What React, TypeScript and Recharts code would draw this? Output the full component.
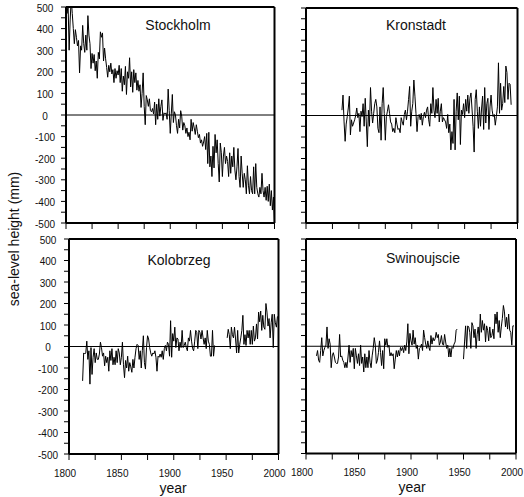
import React from 'react';
import { LineChart, Line, XAxis, YAxis, ReferenceLine } from 'recharts';

const FONT = '"Liberation Sans", Arial, Helvetica, sans-serif';

const xTicks = [1800, 1825, 1850, 1875, 1900, 1925, 1950, 1975, 2000];
const yTicks = [-500, -450, -400, -350, -300, -250, -200, -150, -100, -50, 0, 50, 100, 150, 200, 250, 300, 350, 400, 450, 500];

const stockholmStart = 1800;
const stockholm = [
  530, 470, 510, 300, 440, 540, 470, 400, 330, 395,
  360, 320, 345, 195, 320, 300, 415, 330, 290, 370,
  300, 460, 370, 330, 215, 285, 240, 280, 205, 250,
  170, 290, 260, 385, 360, 380, 250, 310, 260, 220,
  175, 230, 200, 240, 190, 210, 150, 215, 170, 205,
  185, 230, 150, 215, 110, 180, 140, 225, 95, 200,
  170, 265, 130, 200, 105, 210, 150, 195, 115, 160,
  110, 140, 35, 100, 195, 40, -45, 90, 70, 40,
  75, 20, 15, 30, 5, 60, -45, 50, -20, 75,
  -5, 40, 70, -25, 10, 5, 10, -20, 120, 20,
  -85, 5, 95, -35, 15, 0, -50, -85, -20, -60,
  20, -5, -70, -35, -50, -85, -60, -100, -80, -115,
  -20, -75, -35, -60, -90, -45, -75, -105, -90, -130,
  -115, -145, -125, -100, -160, -85, -225, -80, -240, -190,
  -285, -145, -245, -90, -175, -115, -225, -310, -130, -175,
  -285, -190, -150, -225, -190, -215, -285, -175, -270, -190,
  -240, -150, -255, -300, -240, -155, -285, -335, -190, -270,
  -335, -270, -300, -365, -235, -325, -365, -285, -350, -365,
  -240, -365, -225, -335, -365, -380, -335, -365, -270, -350,
  -380, -335, -395, -330, -400, -320, -420, -350, -440, -380,
  -510,
];

const kronstadtStart = 1834;
const kronstadt = [
  25, 95, -30, -120, -40, -5,
  35, 90, -90, -20, -50, -35, -20, 0, 35, -10,
  10, -75, 20, -5, 55, -50, 80, -30, -145, 25,
  -50, 130, 20, -35, 10, 55, 75, 40, -60, -80,
  40, -115, 55, 130, 10, -115, -5, 20, 50, 10,
  -30, -40, -75, -60, -80, -10, -40, -65, -60, -80,
  -10, -30, -45, 5, 25, -20, 20, 75, 135, -50,
  20, 55, 165, 90, 10, -75, -5, 5, -20, 10,
  -45, -5, 15, -10, 25, 40, -20, -50, 55, 10,
  130, 25, -10, 75, 10, 80, -30, 20, 55, -30,
  -10, -20, -30, -60, 5, -80, -40, -160, -75, -130,
  75, -160, 20, 105, -20, 90, -135, 25, 5, 55,
  -10, 75, 20, 95, 10, 80, 105, 30, -50, -170,
  75, 120, 20, -60, 40, -50, 30, 90, -65, 130,
  -35, 55, 80, -65, 40, 95, 25, -5, 5, -45,
  -5, 40, 245, 10, 150, 25, 55, 135, 60, 230,
  200, 75, 150, 145, 50,
];

const kolobrzegStart = 1813;
const kolobrzeg = [
  -160, -30, -35, -30, 25, -60, -20,
  -175, -5, -130, -50, -10, -75, -30, -60, -60, -35,
  20, -5, -45, -30, -90, -45, -75, -50, -115, -20,
  -65, -10, -85, -50, -85, -20, -75, -10, -30, -85,
  -50, 20, -85, -145, -65, -100, -45, -115, -75, -95,
  -120, -60, -100, -50, -10, 10, 5, -60, -20, -100,
  -20, 50, -75, -105, -5, 50, 35, -5, -30, -45,
  -30, -35, -20, -50, -115, -45, -50, -35, -50, -20,
  -60, -10, 5, -20, 20, 10, -45, 120, -50, 60,
  25, 90, -5, 40, 35, -20, 20, -5, 75, -5,
  5, 20, -5, -20, 40, 25, 75, 25, -10, -20,
  25, 75, 65, -10, 75, 65, 35, 75, 40, 10,
  40, -10, 75, 25, 10, -45, -45, 75, -45, 5,
  null, null, null, null, null, null, null, null, null, null,
  null, 40, 80, 55, -10, 90, 55, 40, 90, 35,
  -30, 75, -30, 10, 40, 75, 145, 10, 55, 5,
  75, 40, 75, 10, 75, 10, 95, 25, 40, 105,
  35, 160, 115, 165, 75, 145, 90, 80, 200, 160,
  95, 130, 40, 110, 150, -5, 150, 110, 90, 140,
];

const swinoujscieStart = 1810;
const swinoujscie = [
  -45, -20, -65, -75, -20, 40, -45, -20, -5, 5,
  90, -10, 35, 10, -100, -45, -30, -50, -75, -80,
  -80, -50, 55, -50, -45, -65, -75, -100, -75, -100,
  -50, 5, -75, -20, -50, -10, -105, -10, -45, -80,
  -35, -90, 5, -80, -50, -120, -35, -100, -50, -100,
  -20, -75, -100, -45, -10, 40, 5, -80, -65, -30,
  25, -30, -90, -20, -105, 35, 5, 35, -5, 5,
  -45, -30, -45, -35, -105, -60, -20, -50, -20, -45,
  -5, -20, -5, -30, 5, -20, 20, 105, -35, 60,
  25, 5, 75, 10, 40, -10, 5, -60, -10, -5,
  10, -20, 75, 40, 10, -10, 25, -5, -20, 50,
  10, 40, 25, 35, 65, 40, 55, 5, 20, 50,
  10, 5, 55, 20, -10, 5, -50, -10, -50, -5,
  -10, 10, 20, 75, 80, null, null, null, null, null,
  -60, 20, 95, -10, 95, 90, 65, -10, 110, 95,
  40, 80, -10, 55, 90, 25, 150, 65, 120, 75,
  105, 20, 95, 75, 25, 90, 40, 50, 80, 35,
  150, 105, 160, 65, 120, 40, 90, 130, 190, 160,
  90, 135, 80, 150, 75, 65, 5, 95, 95,
];

type Pt = { year: number; v: number | null };
const build = (start: number, values: (number | null)[]): Pt[] =>
  values.map((v, i) => ({ year: start + i, v }));

const L = 50;
const T = 10;
const R = 10;
const B = 30;
const Y_TICK = 5;
const X_TICK = 6;
const MARGIN = 2;

type PanelProps = {
  px: number;
  py: number;
  pw: number;
  ph: number;
  data: Pt[];
  title: string;
  tx: number;
  ty: number;
  xLabels: boolean;
  yLabels: boolean;
};

function Panel({ px, py, pw, ph, data, title, tx, ty, xLabels, yLabels }: PanelProps) {
  const yTick = (props: any) => {
    const { x, y, payload } = props;
    if (!yLabels || payload.value % 100 !== 0) return <g />;
    return (
      <text x={x - 14} y={y + 4.5} textAnchor="middle" fontSize={10} fill="#111" fontFamily={FONT}>
        {payload.value}
      </text>
    );
  };
  const xTick = (props: any) => {
    const { x, y, payload } = props;
    if (!xLabels || payload.value % 50 !== 0) return <g />;
    return (
      <text x={x - 4} y={y + 14.5} textAnchor="middle" fontSize={10} fill="#111" fontFamily={FONT}>
        {payload.value}
      </text>
    );
  };
  return (
    <>
      <div style={{ position: 'absolute', left: px - L, top: py - T }}>
        <LineChart
          width={pw + L + R}
          height={ph + T + B}
          data={data}
          margin={{ top: T, right: R, left: 0, bottom: 0 }}
        >
          <XAxis
            dataKey="year"
            type="number"
            domain={[1800, 2000]}
            ticks={xTicks}
            interval={0}
            height={B}
            tickSize={X_TICK}
            tickMargin={MARGIN}
            axisLine={{ stroke: '#000', strokeWidth: 2 }}
            tickLine={{ stroke: '#000', strokeWidth: 1 }}
            tick={xTick}
            allowDataOverflow
          />
          <YAxis
            type="number"
            domain={[-500, 500]}
            ticks={yTicks}
            interval={0}
            width={L}
            tickSize={Y_TICK}
            tickMargin={MARGIN}
            axisLine={{ stroke: '#000', strokeWidth: 2 }}
            tickLine={{ stroke: '#000', strokeWidth: 1 }}
            tick={yTick}
            allowDataOverflow
          />
          <ReferenceLine y={0} stroke="#000" strokeWidth={1} />
          <ReferenceLine y={500} stroke="#000" strokeWidth={2} />
          <ReferenceLine x={2000} stroke="#000" strokeWidth={2} />
          <Line
            dataKey="v"
            type="linear"
            stroke="#000"
            strokeWidth={1}
            dot={false}
            activeDot={false}
            connectNulls={false}
            isAnimationActive={false}
          />
        </LineChart>
      </div>
      <div
        style={{
          position: 'absolute',
          left: tx - 60,
          top: ty - 9,
          width: 120,
          textAlign: 'center',
          fontFamily: FONT,
          fontSize: 14,
          lineHeight: '18px',
          color: '#111',
        }}
      >
        {title}
      </div>
    </>
  );
}

export default function App() {
  return (
    <div style={{ position: 'absolute', left: 0, top: 0, width: 524, height: 497, background: '#fff' }}>
      <Panel px={66} py={7} pw={208.5} ph={216} data={build(stockholmStart, stockholm)} title="Stockholm" tx={178} ty={25} xLabels={false} yLabels={true} />
      <Panel px={306} py={8} pw={211.5} ph={215} data={build(kronstadtStart, kronstadt)} title="Kronstadt" tx={416} ty={25} xLabels={false} yLabels={false} />
      <Panel px={69} py={239} pw={209.5} ph={215} data={build(kolobrzegStart, kolobrzeg)} title="Kolobrzeg" tx={179} ty={260} xLabels={true} yLabels={true} />
      <Panel px={306} py={239} pw={210} ph={214.5} data={build(swinoujscieStart, swinoujscie)} title="Swinoujscie" tx={423} ty={258} xLabels={true} yLabels={false} />
      <div style={{ position: 'absolute', left: 133, top: 479, width: 80, textAlign: 'center', fontFamily: FONT, fontSize: 14, lineHeight: '18px', color: '#111' }}>year</div>
      <div style={{ position: 'absolute', left: 372, top: 478, width: 80, textAlign: 'center', fontFamily: FONT, fontSize: 14, lineHeight: '18px', color: '#111' }}>year</div>
      <div
        style={{
          position: 'absolute',
          left: 14 - 90,
          top: 239 - 9,
          width: 180,
          textAlign: 'center',
          fontFamily: FONT,
          fontSize: 14,
          lineHeight: '18px',
          color: '#111',
          transform: 'rotate(-90deg)',
          whiteSpace: 'nowrap',
        }}
      >
        sea-level height (mm)
      </div>
    </div>
  );
}
